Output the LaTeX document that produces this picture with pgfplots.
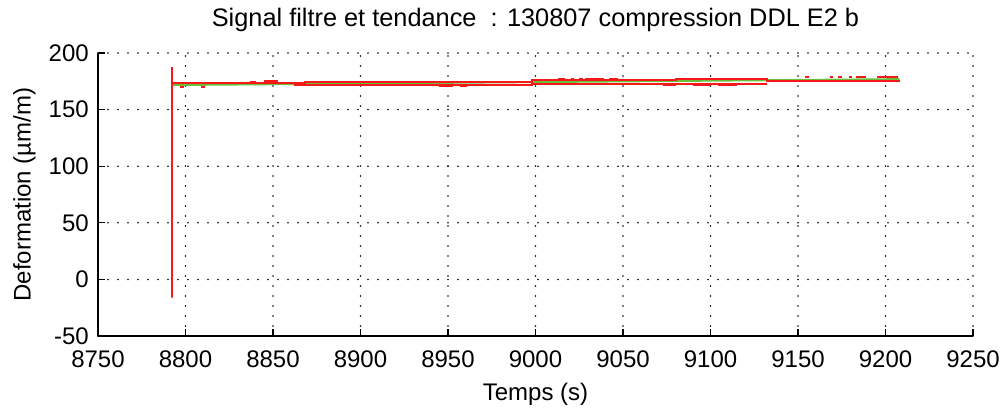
\documentclass[border=0pt]{standalone}
\usepackage{pgfplots}
\pgfplotsset{compat=1.18}
\usepackage{fontspec}
\setmainfont{Liberation Sans}
\definecolor{sigred}{RGB}{245,25,25}
\definecolor{trgreen}{RGB}{105,190,60}
\begin{document}
\begin{tikzpicture}
\begin{axis}[
  name=ax,
  scale only axis,
  width=656.25pt, height=212.25pt,
  xmin=8750, xmax=9250, ymin=-50, ymax=200,
  xtick={8750,8800,...,9250},
  ytick={-50,0,50,100,150,200},
  axis x line*=bottom, axis y line*=left,
  tick align=inside,
  major tick length=5pt,
  tick style={black, line width=0.9pt},
  grid=major,
  grid style={black, line width=1.3pt, line cap=round, dash pattern=on 0pt off 7.5pt},
  axis line style={black, line width=0.9pt},
  unbounded coords=jump,
  /pgf/number format/assume math mode=true,
  /pgf/number format/1000 sep={},
  tick label style={font=\fontsize{18}{20}\selectfont},
  xticklabel style={anchor=north, inner sep=0pt, yshift=-10.5pt},
  yticklabel style={anchor=east, inner sep=0pt, xshift=-6.75pt},
  title style={font=\fontsize{19}{21}\selectfont, at={(rel axis cs:0.5,1)}, anchor=base, inner sep=0pt, yshift=13.5pt},
  title={Signal filtre et tendance\ \ : 130807 compression DDL E2 b},
  xlabel style={font=\fontsize{18}{20}\selectfont, at={(rel axis cs:0.5,0)}, anchor=base, inner sep=0pt, yshift=-48pt},
  ylabel style={font=\fontsize{18}{20}\selectfont, at={(rel axis cs:0,0.5)}, anchor=north, inner sep=0pt, yshift=63.75pt},
  xlabel={Temps (s)},
  ylabel={Deformation (µm/m)},
  every axis plot/.append style={line join=miter},
]
% trend
\addplot[trgreen, line width=1.5pt] coordinates {(8792,171.7) (9208,176.9)};
% red signal, upper level with start transient
\addplot[sigred, line width=1.5pt] coordinates {
(8792,188) (8792,-16) (8792,173.2) (8868,173.2) (8868,174.6) (8876,174.6) (8876,174.8)
(8998,174.8) (8998,175.9) (9080,175.9) (9080,176.6) (9132,176.6) (9132,175.2) (9208,175.2)};
% red signal, lower level
\addplot[sigred, line width=1.5pt] coordinates {
(8862,171.6) (8998,171.6) (8998,172.4) (9132,172.4)};
% short excursions of the signal
\addplot[sigred, line width=1.5pt] coordinates {
(8797,170.3) (8799,170.3) (8799,nan)
(8809,170.3) (8811,170.3) (8811,nan)
(8837,174.4) (8840,174.4) (8840,nan)
(8845,175.2) (8853,175.2) (8853,nan)
(8945,170.8) (8953,170.8) (8953,nan)
(8957,170.8) (8961,170.8) (8961,nan)
(9013,177) (9017,177) (9017,nan)
(9020,177) (9022,177) (9022,nan)
(9025,177) (9027,177) (9027,nan)
(9028,177) (9039,177) (9039,nan)
(9042,177) (9047,177) (9047,nan)
(9073,171.8) (9080,171.8) (9080,nan)
(9090,171.8) (9100,171.8) (9100,nan)
(9104,171.8) (9115,171.8) (9115,nan)
(9154,178.8) (9156,178.8) (9156,nan)
(9168,178.8) (9170,178.8) (9170,nan)
(9173,178.8) (9175,178.8) (9175,nan)
(9179,178.8) (9181,178.8) (9181,nan)
(9183,178.8) (9189,178.8) (9189,nan)
(9195,178.8) (9207,178.8)};
\end{axis}
\path (ax.south west) ++(-73.5pt,-55.5pt) coordinate (bbsw);
\path (ax.north east) ++(21.75pt,39.75pt) coordinate (bbne);
\path[use as bounding box] (bbsw) rectangle (bbne);
\end{tikzpicture}
\end{document}
